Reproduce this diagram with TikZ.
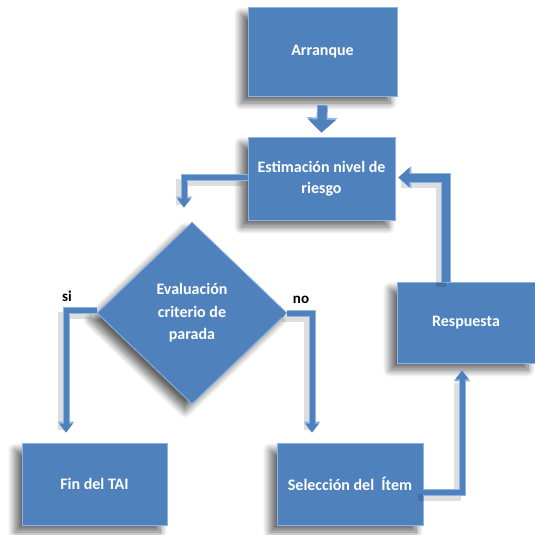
\documentclass[tikz,border=0pt]{standalone}
\usepackage{fontspec}
\setmainfont{Carlito}
\usetikzlibrary{shapes.geometric,arrows.meta,shadows.blur}
\definecolor{boxblue}{HTML}{4F81BD}
\definecolor{edgeblue}{HTML}{8EB4E3}
\begin{document}
\begin{tikzpicture}[x=1pt,y=-1pt,
  boxshadow/.style={blur shadow={shadow xshift=-7pt, shadow yshift=-7pt, shadow blur steps=12, shadow blur radius=7pt, shadow opacity=60}},
  stepbox/.style={rectangle, fill=boxblue, draw=edgeblue, line width=0.8pt, text=white,
    font=\bfseries\fontsize{16}{21}\selectfont, align=center, inner sep=0pt, boxshadow},
  decision/.style={diamond, fill=boxblue, draw=edgeblue, line width=0.8pt, text=white,
    font=\bfseries\fontsize{16}{22.5}\selectfont, align=center, inner sep=0pt,
    minimum width=190pt, minimum height=182pt, boxshadow},
  arrowshade/.style={preaction={draw=black, draw opacity=0.13, line width=#1, -, shorten >=8pt,
    transform canvas={xshift=-5pt,yshift=-5pt}}},
  conn/.style={draw=boxblue, line width=5pt, -{Triangle[width=13pt,length=9pt]}, arrowshade=7pt,
    preaction={draw=edgeblue, line width=7pt, -{Triangle[width=16pt,length=11pt]}}},
  wideconn/.style={draw=boxblue, line width=8pt, -{Triangle[width=19pt,length=11pt]}, arrowshade=10pt,
    preaction={draw=edgeblue, line width=10pt, -{Triangle[width=22pt,length=13pt]}}},
  bigarrow/.style={draw=boxblue, line width=9pt, -{Triangle[width=27pt,length=13pt]},
    preaction={draw=edgeblue, line width=11pt, -{Triangle[width=30pt,length=15pt]}}},
  lbl/.style={font=\bfseries\fontsize{15}{17}\selectfont, text=black, inner sep=0pt}]
\useasboundingbox (0,0) rectangle (535,535);

% process steps
\node[stepbox, minimum width=149pt, minimum height=89pt] (arr) at (322.5,51.5) {Arranque};
\node[stepbox, minimum width=147pt, minimum height=83pt] (est) at (321.5,178.5) {Estimación nivel de\\riesgo};
\node[decision] (eval) at (192,313) {Evaluación\\criterio de\\parada};
\node[stepbox, minimum width=145pt, minimum height=82pt] (fin) at (94.5,484) {Fin del TAI};
\node[stepbox, minimum width=146pt, minimum height=82pt] (sel) at (350,484) {Selección del~~Ítem};
\node[stepbox, minimum width=138pt, minimum height=81pt] (resp) at (466,322.5) {Respuesta};

% branch labels
\node[lbl] (si) at (67,296) {si};
\node[lbl] (no) at (301,300) {no};

% connectors
\draw[bigarrow] ([yshift=-9pt]arr.south) -- ([yshift=4pt]est.north);
\draw[conn] ([yshift=1pt]est.west) -| ([xshift=-8pt,yshift=14pt]eval.north);
\draw[conn] ([yshift=3pt]eval.west) -| ([xshift=-28.5pt,yshift=10pt]fin.north);
\draw[conn] (eval.east) -| ([xshift=-38pt,yshift=10pt]sel.north);
\draw[conn] ([yshift=-8pt]sel.east) -| ([xshift=-4pt,yshift=-7pt]resp.south);
\draw[wideconn] ([xshift=-20pt]resp.north) |- ([xshift=3pt,yshift=1pt]est.east);
\end{tikzpicture}
\end{document}
